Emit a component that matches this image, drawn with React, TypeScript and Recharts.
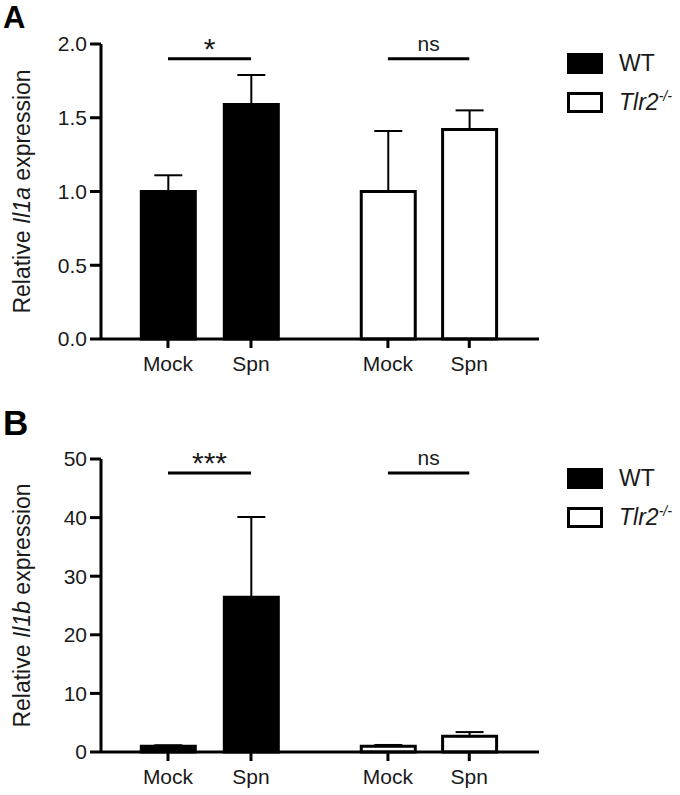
import React from "react"
import {
  Bar,
  BarChart,
  Cell,
  ErrorBar,
  Label,
  ReferenceLine,
  XAxis,
  YAxis,
} from "recharts"

// bar order: WT Mock, WT Spn, Tlr2 Mock, Tlr2 Spn
const groups = ["WT", "WT", "Tlr2", "Tlr2"]
const conditions = ["Mock", "Spn", "Mock", "Spn"]
const xPositions = [1, 2, 3.65, 4.63]

const il1aMean = [1.0, 1.59, 1.0, 1.42]
const il1aErr = [0.11, 0.2, 0.41, 0.13]
const il1aTicks = [0, 0.5, 1.0, 1.5, 2.0]

const il1bMean = [1.0, 26.4, 1.0, 2.7]
const il1bErr = [0.15, 13.7, 0.2, 0.7]
const il1bTicks = [0, 10, 20, 30, 40, 50]

const FONT = '"Liberation Sans", Arial, sans-serif'
const INK = "#1a1a1a"

function buildRows(mean: number[], err: number[]) {
  return xPositions.map((x, i) => ({
    x,
    value: mean[i],
    err: [0, err[i]],
    group: groups[i],
    label: conditions[i],
  }))
}

function YTitle({ gene, cy }: { gene: string; cy: number }) {
  return (
    <text
      x={0}
      y={0}
      transform={`translate(30, ${cy}) rotate(-90)`}
      textAnchor="middle"
      fontSize={23}
      fontFamily={FONT}
      fill={INK}
    >
      <tspan>Relative </tspan>
      <tspan fontStyle="italic">{gene}</tspan>
      <tspan> expression</tspan>
    </text>
  )
}

function LegendBlock({ top }: { top: number }) {
  const row = (fill: string, text: React.ReactNode) => (
    <div style={{ display: "flex", alignItems: "center", height: 39 }}>
      <div
        style={{
          width: 36,
          height: 21,
          boxSizing: "border-box",
          background: fill,
          border: "3px solid #000",
        }}
      />
      <div style={{ marginLeft: 16, fontSize: 23, color: INK, fontFamily: FONT }}>{text}</div>
    </div>
  )
  return (
    <div style={{ position: "absolute", left: 567, top }}>
      {row("#000", "WT")}
      {row(
        "#fff",
        <span>
          <i>Tlr2</i>
          <sup style={{ fontSize: 14, fontStyle: "italic" }}>-/-</sup>
        </span>,
      )}
    </div>
  )
}

type PanelProps = {
  top: number
  height: number
  marginTop: number
  marginBottom: number
  mean: number[]
  err: number[]
  ticks: number[]
  fmt: (v: number) => string
  gene: string
  sigY: number
  sigLeft: string
  sigRight: string
}

function Panel(p: PanelProps) {
  const data = buildRows(p.mean, p.err)
  const plotTop = p.marginTop
  const plotBottom = p.height - p.marginBottom - 40
  return (
    <div style={{ position: "absolute", left: 0, top: p.top }}>
      <BarChart
        width={680}
        height={p.height}
        data={data}
        margin={{ top: p.marginTop, right: 141, bottom: p.marginBottom, left: 0 }}
      >
        <XAxis
          type="number"
          dataKey="x"
          domain={[0.193, 5.47]}
          ticks={xPositions}
          allowDataOverflow
          interval={0}
          height={40}
          tickFormatter={(v: number) => conditions[xPositions.indexOf(v)] ?? ""}
          tick={{ fontSize: 21, fill: INK, fontFamily: FONT }}
          axisLine={{ stroke: "#000", strokeWidth: 3 }}
          tickLine={{ stroke: "#000", strokeWidth: 3 }}
          tickSize={9}
          tickMargin={8}
        />
        <YAxis
          type="number"
          domain={[p.ticks[0], p.ticks[p.ticks.length - 1]]}
          ticks={p.ticks}
          width={101}
          interval={0}
          tickFormatter={p.fmt}
          tick={{ fontSize: 21, fill: INK, fontFamily: FONT }}
          axisLine={{ stroke: "#000", strokeWidth: 3 }}
          tickLine={{ stroke: "#000", strokeWidth: 3 }}
          tickSize={11}
          tickMargin={3}
        >
          <Label content={() => <YTitle gene={p.gene} cy={(plotTop + plotBottom) / 2} />} />
        </YAxis>
        <ReferenceLine
          segment={[
            { x: xPositions[0], y: p.sigY },
            { x: xPositions[1], y: p.sigY },
          ]}
          stroke="#000"
          strokeWidth={3}
          label={{ value: p.sigLeft, position: "top", offset: 0, fontSize: 30, fill: INK, fontFamily: FONT }}
        />
        <ReferenceLine
          segment={[
            { x: xPositions[2], y: p.sigY },
            { x: xPositions[3], y: p.sigY },
          ]}
          stroke="#000"
          strokeWidth={3}
          label={{ value: p.sigRight, position: "top", offset: 8, fontSize: 21, fill: INK, fontFamily: FONT }}
        />
        <Bar dataKey="value" barSize={54} stroke="#000" strokeWidth={3} isAnimationActive={false}>
          {data.map((d, i) => (
            <Cell key={i} fill={d.group === "WT" ? "#000" : "#fff"} />
          ))}
          <ErrorBar dataKey="err" direction="y" width={14} stroke="#000" strokeWidth={2} isAnimationActive={false} />
        </Bar>
      </BarChart>
    </div>
  )
}

export default function App() {
  return (
    <div
      style={{
        position: "absolute",
        left: 0,
        top: 0,
        width: 680,
        height: 795,
        background: "#fff",
        fontFamily: FONT,
        overflow: "hidden",
      }}
    >
      <Panel
        top={0}
        height={400}
        marginTop={44}
        marginBottom={21}
        mean={il1aMean}
        err={il1aErr}
        ticks={il1aTicks}
        fmt={(v) => v.toFixed(1)}
        gene="Il1a"
        sigY={1.9}
        sigLeft="*"
        sigRight="ns"
      />
      <Panel
        top={400}
        height={395}
        marginTop={59}
        marginBottom={3}
        mean={il1bMean}
        err={il1bErr}
        ticks={il1bTicks}
        fmt={(v) => String(v)}
        gene="Il1b"
        sigY={47.6}
        sigLeft="***"
        sigRight="ns"
      />
      <LegendBlock top={44} />
      <LegendBlock top={459} />
      <div style={{ position: "absolute", left: 3, top: 2, fontSize: 31, lineHeight: 1, fontWeight: "bold", color: "#000" }}>A</div>
      <div style={{ position: "absolute", left: 3, top: 405, fontSize: 35, lineHeight: 1, fontWeight: "bold", color: "#000" }}>B</div>
    </div>
  )
}
